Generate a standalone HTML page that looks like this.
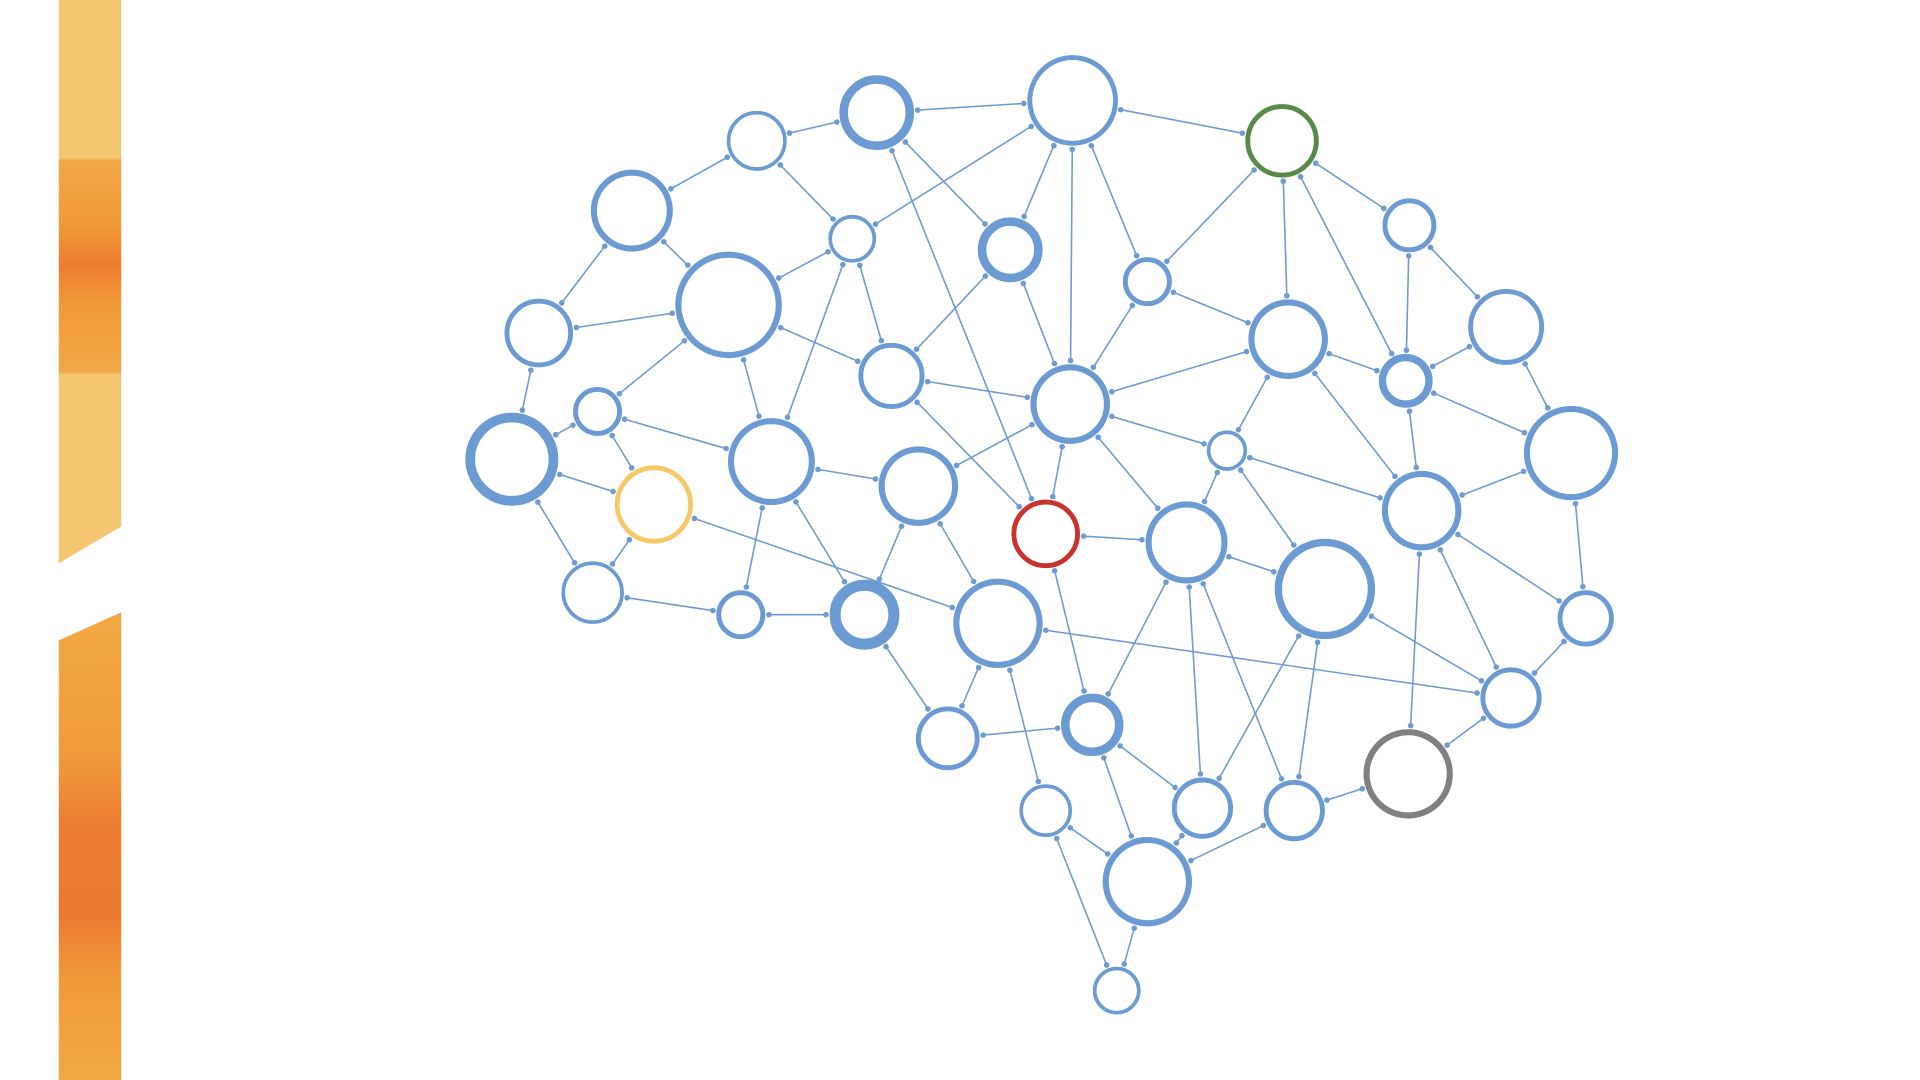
<!DOCTYPE html>
<html><head><meta charset="utf-8"><style>
html,body{margin:0;padding:0;background:#fff;width:1920px;height:1080px;overflow:hidden}
svg{display:block}
</style></head><body>
<svg id="s" width="1920" height="1080" viewBox="0 0 1568 882" xmlns="http://www.w3.org/2000/svg">
<defs>
<linearGradient id="gt" x1="0" y1="0" x2="0" y2="1">
<stop offset="0" stop-color="#f5c670"/><stop offset="0.28" stop-color="#f5c670"/>
<stop offset="0.285" stop-color="#f2a848"/><stop offset="0.4" stop-color="#f09a38"/>
<stop offset="0.47" stop-color="#ee7d2f"/><stop offset="0.54" stop-color="#f09a38"/>
<stop offset="0.66" stop-color="#f2a848"/><stop offset="0.665" stop-color="#f5c670"/>
<stop offset="1" stop-color="#f5c670"/></linearGradient>
<linearGradient id="gb" x1="0" y1="0" x2="0" y2="1">
<stop offset="0" stop-color="#f2a845"/><stop offset="0.3" stop-color="#f09c3c"/>
<stop offset="0.45" stop-color="#ec7e32"/><stop offset="0.65" stop-color="#ec7a30"/>
<stop offset="0.78" stop-color="#f09a3a"/><stop offset="1" stop-color="#f2a845"/></linearGradient>
</defs>
<polygon points="48,0 99,0 99,430 48,460" fill="url(#gt)"/>
<polygon points="48,523 99,500 99,882 48,882" fill="url(#gb)"/>
<g id="e"></g><g id="n"></g>
</svg>
<script>
var B="#6b9bd2";
var N=[null,
[618,115,23,3],[716,92,27,7],[876,82,35,4],[1047,115,28,4,"#5a8a4a"],[516,172,31,5],
[696,195,18,3],[825,204,23,7],[937,230,18,4],[1151,184,20,4],[595,249,41,5],
[440,272,26,4],[1052,277,30,5],[1230,267,29,4],[728,307,25,4],[874,330,30,5],
[1148,311,19,6],[488,336,18,4],[418,375,34,8],[630,377,33,5],[1002,368,15,3],
[1283,370,36,5],[534,412,30,4,"#f5c96a"],[750,397,30,5],[854,436,26,4,"#c8332f"],[969,443,31,5],
[1161,417,30,5],[1082,481,38,6],[484,484,24,3],[605,502,18,4],[706,502,24,9],
[815,509,34,5],[1295,505,21,4],[1234,570,23,4],[892,592,22,7],[774,603,24,4],
[1150,632,34,5,"#808080"],[854,662,20,3],[982,660,23,4],[1057,662,23,4],[937,720,34,5],[912,809,18,3]];
var E=[[1,2],[1,5],[1,6],[2,3],[2,7],[2,24],[3,4],[3,6],[3,7],[3,15],[3,8],[4,8],[4,12],[4,16],[4,9],
[9,16],[9,13],[5,11],[5,10],[6,10],[6,14],[6,19],[7,14],[7,15],[8,15],[8,12],[10,11],[10,17],[10,14],[10,19],
[12,15],[12,16],[12,20],[12,26],[13,16],[13,21],[16,21],[16,26],[14,15],[14,24],[15,20],[15,25],[15,23],[15,24],
[17,18],[17,19],[17,22],[11,18],[18,22],[18,28],[22,28],[22,31],[19,23],[19,29],[19,30],[20,25],[20,26],[20,27],
[21,26],[21,32],[23,30],[23,31],[24,25],[24,34],[25,27],[25,34],[25,38],[25,39],[26,33],[26,36],[27,33],[27,38],
[27,39],[28,29],[29,30],[30,35],[31,35],[31,37],[31,33],[32,33],[33,36],[34,35],[34,38],[34,40],[36,39],[37,40],
[37,41],[40,41],[39,40],[38,40],[26,32]];
var ns="http://www.w3.org/2000/svg",ge=document.getElementById("e"),gn=document.getElementById("n");
function mk(t,a,p){var el=document.createElementNS(ns,t);for(var k in a)el.setAttribute(k,a[k]);p.appendChild(el);}
E.forEach(function(p){var a=N[p[0]],b=N[p[1]],dx=b[0]-a[0],dy=b[1]-a[1],d=Math.hypot(dx,dy),ux=dx/d,uy=dy/d;
var ra=a[2]+a[3]/2+3,rb=b[2]+b[3]/2+3;
var x1=a[0]+ux*ra,y1=a[1]+uy*ra,x2=b[0]-ux*rb,y2=b[1]-uy*rb;
mk("line",{x1:x1,y1:y1,x2:x2,y2:y2,stroke:"#6f9bd0","stroke-width":1.3},ge);
mk("circle",{cx:x1,cy:y1,r:2.3,fill:"#6f9bd0"},ge);mk("circle",{cx:x2,cy:y2,r:2.3,fill:"#6f9bd0"},ge);});
for(var i=1;i<N.length;i++){var c=N[i];mk("circle",{cx:c[0],cy:c[1],r:c[2],fill:"#fff",stroke:c[4]||B,"stroke-width":c[3]},gn);}
</script>
</body></html>
